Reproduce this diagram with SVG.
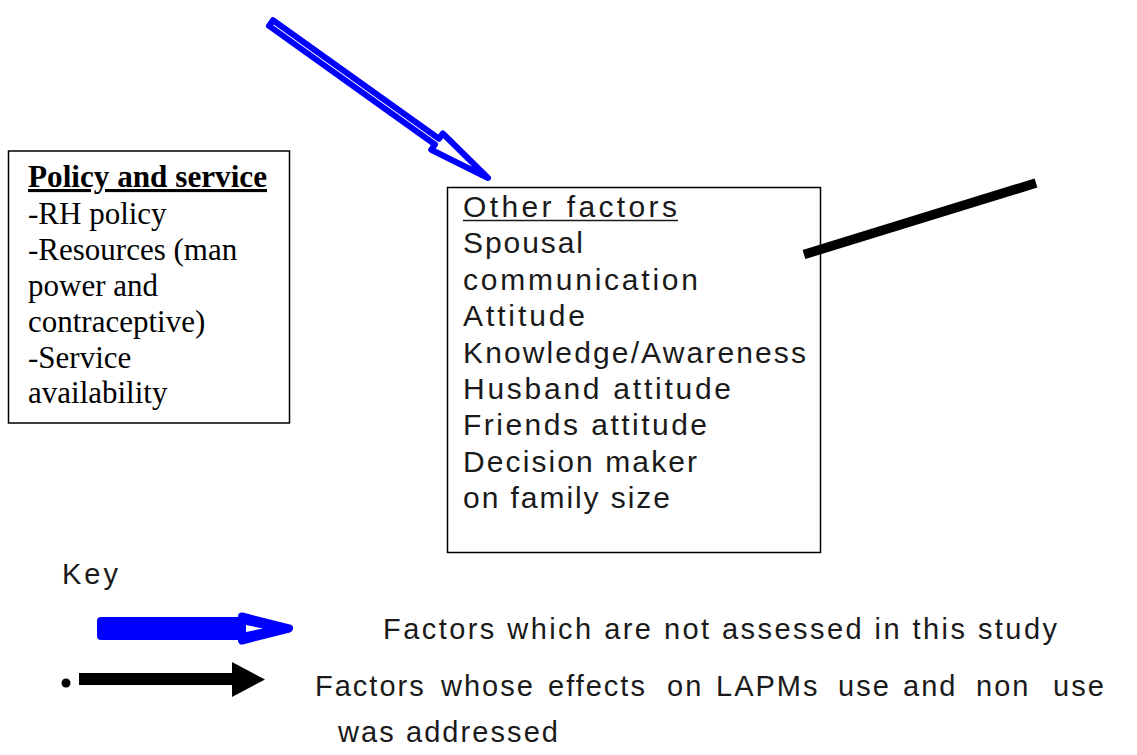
<svg xmlns="http://www.w3.org/2000/svg" width="1137" height="755" viewBox="0 0 1137 755">
<style>
.box{fill:#fff;stroke:#000;stroke-width:1.5}
.serif{font-family:"Liberation Serif","Times New Roman",serif;font-size:31px;fill:#000}
.sans{font-family:"Liberation Sans",Arial,sans-serif;font-size:30px;fill:#1a1a1a}
.key{font-family:"Liberation Sans",Arial,sans-serif;font-size:29px;fill:#1a1a1a}
</style>
<rect width="1137" height="755" fill="#fff"/>
<g id="policy">
<rect class="box" x="8.5" y="151" width="281" height="272"/>
<text class="serif" x="28" y="187" font-weight="bold" text-decoration="underline" textLength="239" lengthAdjust="spacingAndGlyphs">Policy and service</text>
<text class="serif" x="28" y="224">-RH policy</text>
<text class="serif" x="28" y="260">-Resources (man</text>
<text class="serif" x="28" y="296">power and</text>
<text class="serif" x="28" y="332">contraceptive)</text>
<text class="serif" x="28" y="368">-Service</text>
<text class="serif" x="28" y="403">availability</text>
</g>
<g id="other-factors">
<rect class="box" x="447.5" y="187.5" width="373" height="365"/>
<text class="sans" x="463" y="216.7" textLength="214" lengthAdjust="spacing">Other factors</text>
<line x1="463" y1="220.5" x2="678" y2="220.5" stroke="#1a1a1a" stroke-width="1.5"/>
<text class="sans" x="463" y="253.3" textLength="120" lengthAdjust="spacing">Spousal</text>
<text class="sans" x="463" y="289.5" textLength="235" lengthAdjust="spacing">communication</text>
<text class="sans" x="463" y="326" textLength="122" lengthAdjust="spacing">Attitude</text>
<text class="sans" x="463" y="362.7" textLength="343" lengthAdjust="spacing">Knowledge/Awareness</text>
<text class="sans" x="463" y="398.5" textLength="268" lengthAdjust="spacing">Husband attitude</text>
<text class="sans" x="463" y="435" textLength="244" lengthAdjust="spacing">Friends attitude</text>
<text class="sans" x="463" y="471.7" textLength="234" lengthAdjust="spacing">Decision maker</text>
<text class="sans" x="463" y="508.3" textLength="207" lengthAdjust="spacing">on family size</text>
</g>
<g id="connectors">
<polygon points="273,20.2 439,138.8 442.8,133.5 488,178 431.2,149.7 435,144.5 269,25.9" fill="#fff" stroke="#0000ff" stroke-width="6" stroke-linejoin="round"/>
<line x1="804" y1="254.5" x2="1036" y2="183" stroke="#000" stroke-width="9.5"/>
</g>
<g id="key">
<text class="key" x="62" y="583.5" textLength="56" lengthAdjust="spacing">Key</text>
<polygon points="101,621 242,621 242,616.5 289,628.5 242,640.5 242,636 101,636" fill="#0000ff" stroke="#0000ff" stroke-width="8" stroke-linejoin="round"/>
<polygon points="246,625 263,628.5 246,632" fill="#fff"/>
<text class="key" x="383" y="638.5" textLength="674" lengthAdjust="spacing">Factors which are not assessed in this study</text>
<circle cx="66" cy="683" r="4.5" fill="#000"/>
<polygon points="79,673 232,673 232,662 265,679.5 232,697 232,685 79,685" fill="#000"/>
<text class="key" y="696" letter-spacing="2">
<tspan x="315">Factors</tspan>
<tspan x="441">whose</tspan>
<tspan x="548">effects</tspan>
<tspan x="667">on</tspan>
<tspan x="716">LAPMs</tspan>
<tspan x="838">use</tspan>
<tspan x="903">and</tspan>
<tspan x="976">non</tspan>
<tspan x="1053">use</tspan>
</text>
<text class="key" x="338" y="742" textLength="220" lengthAdjust="spacing">was addressed</text>
</g>
</svg>
